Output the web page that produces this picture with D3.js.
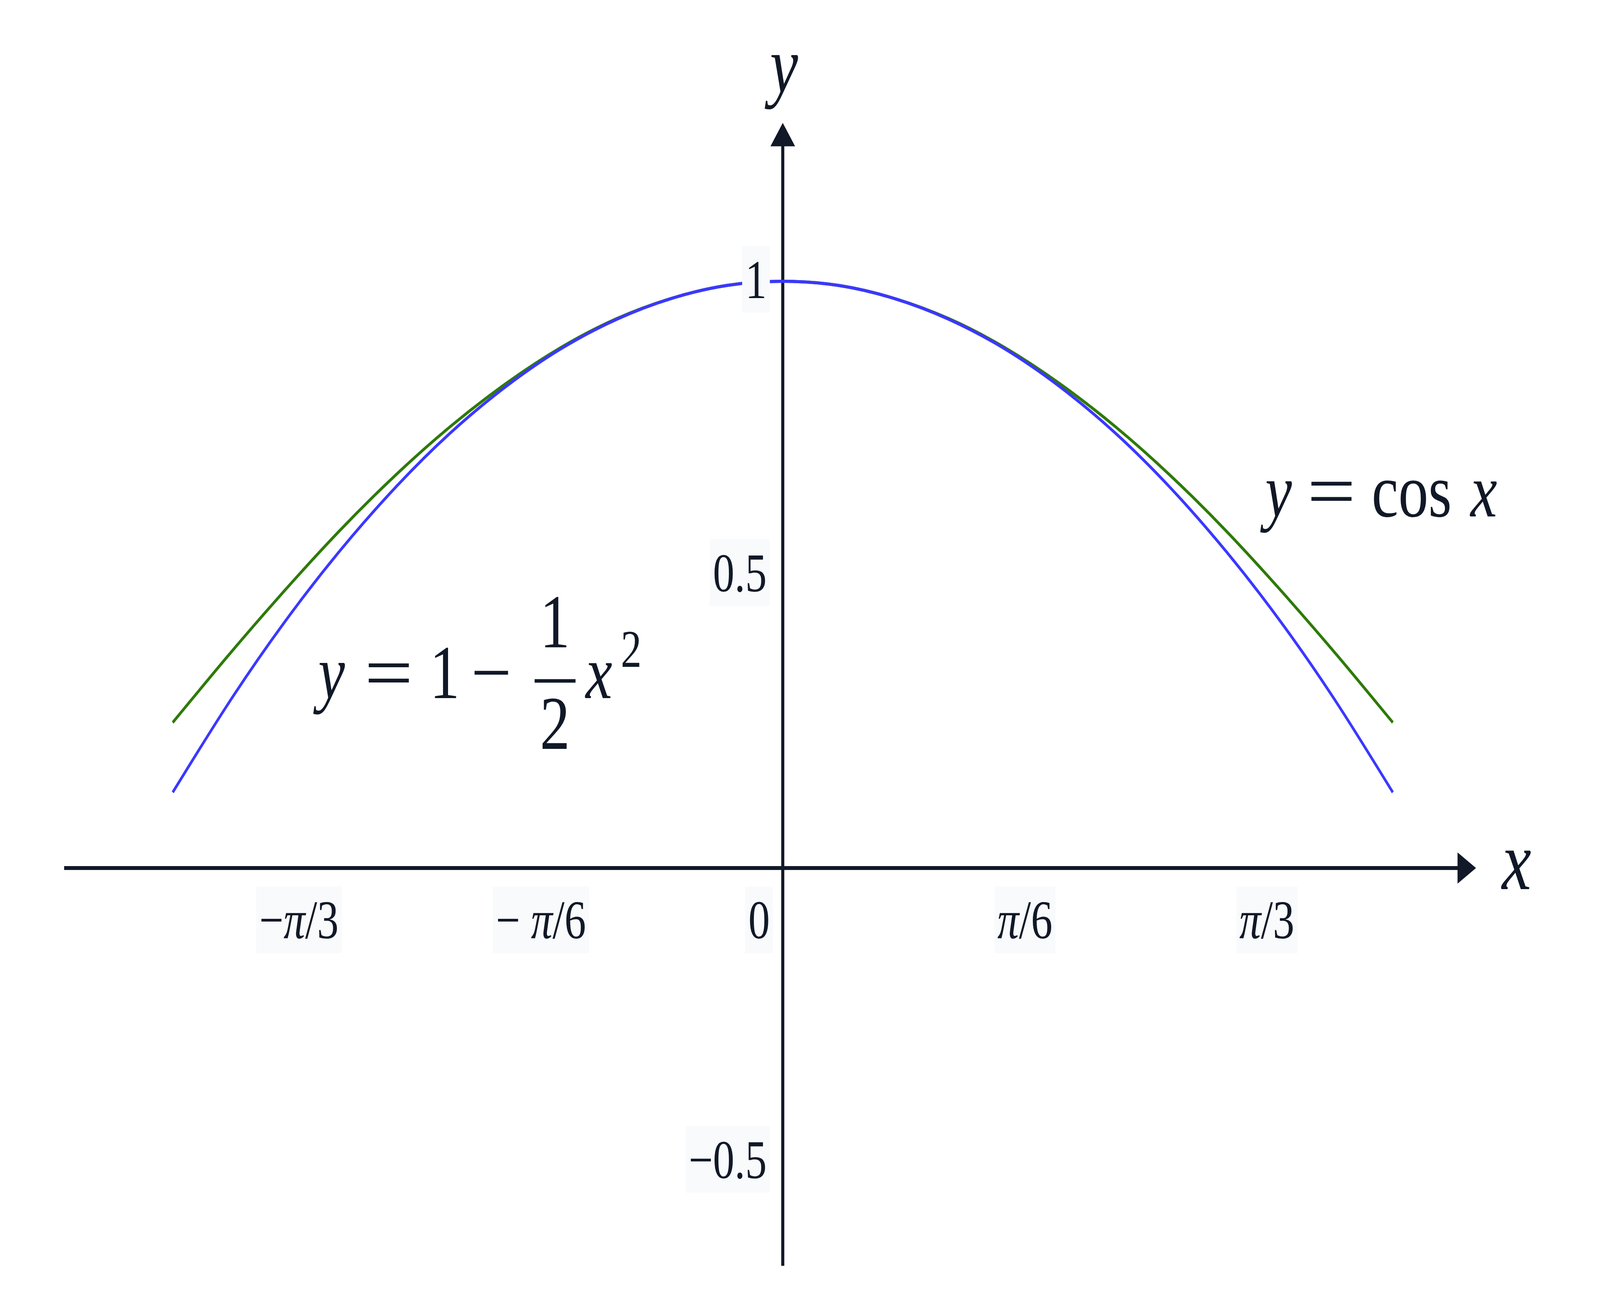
<!DOCTYPE html>
<html>
<head>
<meta charset="utf-8">
<script src="https://cdn.jsdelivr.net/npm/d3@7"></script>
<style>
  html, body { margin: 0; padding: 0; background: #fff; overflow: hidden; }
  svg { display: block; }
  svg text { font-family: "Liberation Serif", "DejaVu Serif", serif; fill: #111827; }
</style>
</head>
<body>
<div id="chart"></div>
<script>
// sample points
const xSamples = [-1.32, -1.2, -1.08, -0.96, -0.84, -0.72, -0.6, -0.48, -0.36, -0.24, -0.12, 0,
                  0.12, 0.24, 0.36, 0.48, 0.6, 0.72, 0.84, 0.96, 1.08, 1.2, 1.32];
const cosValues = [0.248, 0.362, 0.471, 0.574, 0.668, 0.752, 0.825, 0.887, 0.936, 0.971, 0.993, 1,
                   0.993, 0.971, 0.936, 0.887, 0.825, 0.752, 0.668, 0.574, 0.471, 0.362, 0.248];
const taylorValues = [0.129, 0.28, 0.417, 0.539, 0.647, 0.741, 0.82, 0.885, 0.935, 0.971, 0.993, 1,
                      0.993, 0.971, 0.935, 0.885, 0.82, 0.741, 0.647, 0.539, 0.417, 0.28, 0.129];

const xTickValues = [-Math.PI / 3, -Math.PI / 6, Math.PI / 6, Math.PI / 3];
const xTickLabels = [["−", "π", "/3"], ["− ", "π", "/6"], ["", "π", "/6"], ["", "π", "/3"]];
const yTickValues = [1, 0.5, -0.5];
const yTickLabels = ["1", "0.5", "−0.5"];

const width = 5200;
const height = 3338;
const ink = "#111827";
const labelBg = "#f8fafc";

// drawn in a 5200x3338 space, stretched to whatever the window is
const svg = d3.select("#chart").append("svg")
  .attr("viewBox", `0 0 ${width} ${height}`)
  .attr("preserveAspectRatio", "none")
  .style("width", "100vw")
  .style("height", "100vh");

// same unit length on both axes
const x = d3.scaleLinear().domain([0, 1]).range([2544, 2544 + 1502]);
const y = d3.scaleLinear().domain([0, 1]).range([2222, 720]);

const xExtent = [-1.555, 1.50];
const yExtent = [-0.678, 1.27];
const headLen = 60;
const headHalf = 40;

// axis lines with arrow heads
const axes = svg.append("g");
axes.append("line")
  .attr("x1", x(xExtent[0])).attr("x2", x(xExtent[1]) - headLen + 2)
  .attr("y1", y(0)).attr("y2", y(0))
  .attr("stroke", ink).attr("stroke-width", 10);
axes.append("path")
  .attr("d", `M${x(xExtent[1])},${y(0)} L${x(xExtent[1]) - headLen},${y(0) - headHalf} L${x(xExtent[1]) - headLen},${y(0) + headHalf} Z`)
  .attr("fill", ink);
axes.append("line")
  .attr("x1", x(0)).attr("x2", x(0))
  .attr("y1", y(yExtent[0])).attr("y2", y(yExtent[1]) + headLen - 2)
  .attr("stroke", ink).attr("stroke-width", 10);
axes.append("path")
  .attr("d", `M${x(0)},${y(yExtent[1])} L${x(0) - headHalf},${y(yExtent[1]) + headLen} L${x(0) + headHalf},${y(yExtent[1]) + headLen} Z`)
  .attr("fill", ink);

// curves
const line = d3.line()
  .x(d => x(d[0]))
  .y(d => y(d[1]))
  .curve(d3.curveNatural);

svg.append("path")
  .datum(d3.zip(xSamples, cosValues))
  .attr("fill", "none")
  .attr("stroke", "#2e7a08")
  .attr("stroke-width", 8)
  .attr("d", line);

svg.append("path")
  .datum(d3.zip(xSamples, taylorValues))
  .attr("fill", "none")
  .attr("stroke", "#3b38ff")
  .attr("stroke-width", 8)
  .attr("d", line);

// tick labels (no tick marks), each on a light plate
function addPlate(textSel) {
  textSel.each(function() {
    const bb = this.getBBox();
    d3.select(this.parentNode).insert("rect", "text")
      .attr("x", bb.x - 10).attr("y", bb.y - 8)
      .attr("width", bb.width + 20).attr("height", bb.height + 16)
      .attr("fill", labelBg);
  });
}

const xAxis = svg.append("g")
  .attr("transform", `translate(0,${y(0)})`)
  .call(d3.axisBottom(x).tickValues(xTickValues).tickSize(0).tickFormat(""));
xAxis.select(".domain").remove();
xAxis.selectAll(".tick text").remove();
xAxis.selectAll(".tick").each(function(d, i) {
  const t = d3.select(this).append("text")
    .attr("y", 180)
    .attr("text-anchor", "middle")
    .attr("font-size", 140);
  const parts = xTickLabels[i];
  if (parts[0]) t.append("tspan").text(parts[0]);
  t.append("tspan").attr("font-style", "italic").text(parts[1]);
  t.append("tspan").text(parts[2]);
});
addPlate(xAxis.selectAll(".tick text"));

const yAxis = svg.append("g")
  .attr("transform", `translate(${x(0)},0)`)
  .call(d3.axisLeft(y).tickValues(yTickValues).tickSize(0).tickPadding(52)
    .tickFormat((d, i) => yTickLabels[i]));
yAxis.select(".domain").remove();
yAxis.selectAll(".tick text")
  .attr("font-size", 140)
  .attr("font-family", null)
  .attr("fill", ink)
  .attr("dy", "0.3em");
addPlate(yAxis.selectAll(".tick text"));

// origin label
const origin = svg.append("g").attr("transform", `translate(${x(0) - 77},${y(0) + 180})`);
origin.append("text")
  .attr("text-anchor", "middle")
  .attr("font-size", 140)
  .text("0");
addPlate(origin.selectAll("text"));

// axis names
svg.append("text")
  .attr("x", x(0) + 4).attr("y", 236)
  .attr("text-anchor", "middle")
  .attr("font-size", 205)
  .attr("font-style", "italic")
  .text("y");
svg.append("text")
  .attr("x", 4881).attr("y", y(0) + 54)
  .attr("font-size", 215)
  .attr("font-style", "italic")
  .text("x");

// operator glyph stretched to the wider math width
function op(g, sym, x0, len) {
  g.append("text")
    .attr("x", x0)
    .attr("textLength", len)
    .attr("lengthAdjust", "spacingAndGlyphs")
    .text(sym);
}

// formula labels
const fs = 195;
const cosLabel = svg.append("g")
  .attr("transform", `translate(${x(1.044)},${y(0.599)})`)
  .attr("font-size", fs);
cosLabel.append("text").attr("x", 0).attr("font-style", "italic").text("y");
op(cosLabel, "=", 136, 158);
cosLabel.append("text").attr("x", 346).text("cos");
cosLabel.append("text").attr("x", 667).attr("font-style", "italic").text("x");

const taylorLabel = svg.append("g")
  .attr("transform", `translate(${x(-1.005)},${y(0.2896)})`)
  .attr("font-size", fs);
taylorLabel.append("text").attr("x", 0).attr("font-style", "italic").text("y");
op(taylorLabel, "=", 150, 158);
taylorLabel.append("text").attr("x", 362).text("1");
op(taylorLabel, "−", 496, 132);
taylorLabel.append("line")
  .attr("x1", 703).attr("x2", 836)
  .attr("y1", -44).attr("y2", -44)
  .attr("stroke", ink).attr("stroke-width", 9);
taylorLabel.append("text").attr("x", 769).attr("y", -130).attr("text-anchor", "middle").text("1");
taylorLabel.append("text").attr("x", 769).attr("y", 130).attr("text-anchor", "middle").text("2");
taylorLabel.append("text").attr("x", 869).attr("font-style", "italic").text("x");
taylorLabel.append("text").attr("x", 983).attr("y", -80).attr("font-size", 135).text("2");
</script>
</body>
</html>
